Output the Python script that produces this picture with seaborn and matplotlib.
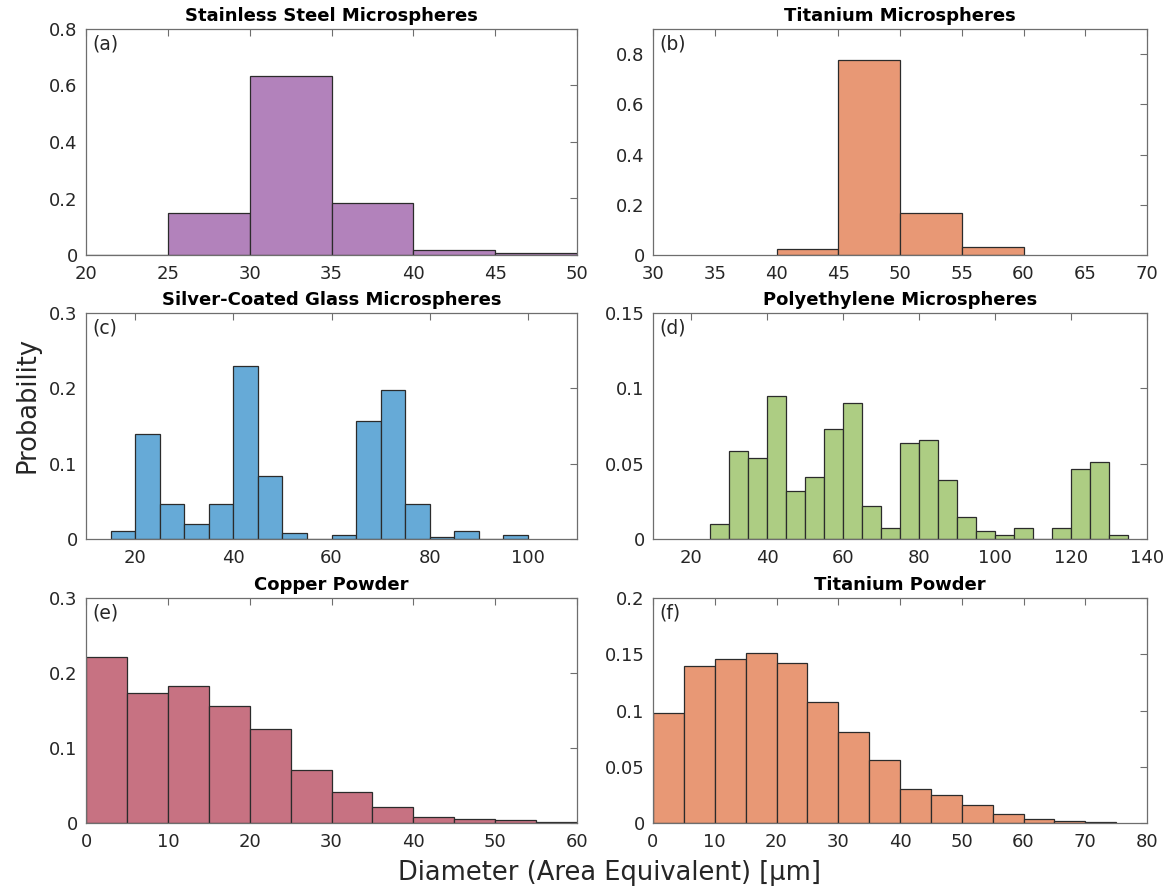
import numpy as np
import pandas as pd
import matplotlib
matplotlib.use("Agg")
import matplotlib.pyplot as plt
import seaborn as sns

sns.set_theme(style="white")
plt.rcParams['font.family'] = ['DejaVu Sans']

# ---- data (probabilities per 5 µm bin) ----
ss_edges = [20, 25, 30, 35, 40, 45, 50]
ss_vals = [0.0, 0.150, 0.633, 0.184, 0.016, 0.008]

ti_edges = [40, 45, 50, 55, 60]
ti_vals = [0.022, 0.776, 0.168, 0.030]

ag_edges = [15, 20, 25, 30, 35, 40, 45, 50, 55, 60, 65, 70, 75, 80, 85, 90, 95, 100]
ag_vals = [0.0106, 0.139, 0.0465, 0.0195, 0.0465, 0.229, 0.083, 0.0075, 0.0,
           0.005, 0.156, 0.198, 0.0465, 0.002, 0.010, 0.0, 0.005]

pe_edges = list(range(25, 140, 5))
pe_vals = [0.0097, 0.0585, 0.0536, 0.095, 0.0319, 0.0414, 0.0733, 0.090, 0.0222,
           0.0073, 0.0634, 0.0656, 0.039, 0.0146, 0.0051, 0.0024, 0.0073, 0.0,
           0.0073, 0.0465, 0.051, 0.0024]

cu_edges = list(range(0, 65, 5))
cu_vals = [0.221, 0.174, 0.183, 0.156, 0.125, 0.0705, 0.0417, 0.0217, 0.008,
           0.0053, 0.0035, 0.0013]

tp_edges = list(range(0, 80, 5))
tp_vals = [0.098, 0.1396, 0.1459, 0.151, 0.142, 0.1077, 0.0805, 0.0556, 0.0302,
           0.0251, 0.0157, 0.008, 0.0038, 0.002, 0.0009]

titles = ["Stainless Steel Microspheres", "Titanium Microspheres",
          "Silver-Coated Glass Microspheres", "Polyethylene Microspheres",
          "Copper Powder", "Titanium Powder"]
letters = ["(a)", "(b)", "(c)", "(d)", "(e)", "(f)"]
colors = ["#B282BB", "#E89875", "#66AAD7", "#ADCD83", "#C77282", "#E89875"]

panels = [
    (ss_edges, ss_vals, (20, 50), np.arange(20, 51, 5), (0, 0.8), [0, 0.2, 0.4, 0.6, 0.8]),
    (ti_edges, ti_vals, (30, 70), np.arange(30, 71, 5), (0, 0.9), [0, 0.2, 0.4, 0.6, 0.8]),
    (ag_edges, ag_vals, (10, 110), np.arange(20, 101, 20), (0, 0.3), [0, 0.1, 0.2, 0.3]),
    (pe_edges, pe_vals, (10, 140), np.arange(20, 141, 20), (0, 0.15), [0, 0.05, 0.1, 0.15]),
    (cu_edges, cu_vals, (0, 60), np.arange(0, 61, 10), (0, 0.3), [0, 0.1, 0.2, 0.3]),
    (tp_edges, tp_vals, (0, 80), np.arange(0, 81, 10), (0, 0.2), [0, 0.05, 0.1, 0.15, 0.2]),
]

W, H = 1171, 892
fig = plt.figure(figsize=(W / 100, H / 100), dpi=100)

col_x = [(86, 577), (653, 1147)]
row_y = [(29, 255), (313, 539), (598, 823)]

axis_col = "#6e6e6e"
text_col = "#262626"

for i, (edges, vals, xl, xt, yl, yt) in enumerate(panels):
    r, c = divmod(i, 2)
    x0, x1 = col_x[c]
    y0, y1 = row_y[r]
    ax = fig.add_axes([x0 / W, 1 - y1 / H, (x1 - x0) / W, (y1 - y0) / H])
    edge_list = [float(e) for e in edges]
    centers = [(a + b) / 2 for a, b in zip(edge_list[:-1], edge_list[1:])]
    df = pd.DataFrame({"diameter": centers, "prob": [float(v) for v in vals]})
    sns.histplot(data=df, x="diameter", weights="prob", bins=edge_list, stat="count", ax=ax,
                 color=colors[i], alpha=1.0, edgecolor="#2b2b2b", linewidth=0.9)
    ax.set_xlim(*xl)
    ax.set_ylim(*yl)
    ax.set_xticks(xt)
    ax.set_xticklabels([f"{v:g}" for v in xt])
    ax.set_yticks(yt)
    ax.set_yticklabels([f"{v:g}" for v in yt])
    ax.set_xlabel("")
    ax.set_ylabel("")
    ax.tick_params(direction="in", top=True, right=True, length=5, width=0.8,
                   colors=axis_col, labelcolor=text_col, labelsize=13)
    ax.tick_params(axis="x", pad=7)
    ax.tick_params(axis="y", pad=6)
    for s in ax.spines.values():
        s.set_color(axis_col)
        s.set_linewidth(0.9)
    ax.set_title(titles[i], fontsize=13, fontweight="bold", color="black", pad=6)
    ax.text(0.012, 0.975, letters[i], transform=ax.transAxes, ha="left", va="top",
            fontsize=13.5, color=text_col)

fig.text(28 / W, 1 - 405 / H, "Probability", rotation=90, ha="center", va="center",
         fontsize=18.5, color=text_col)
fig.text(610 / W, 1 - 873 / H, "Diameter (Area Equivalent) [µm]", ha="center", va="center",
         fontsize=18.5, color=text_col)

fig.savefig("out.png", dpi=100)
